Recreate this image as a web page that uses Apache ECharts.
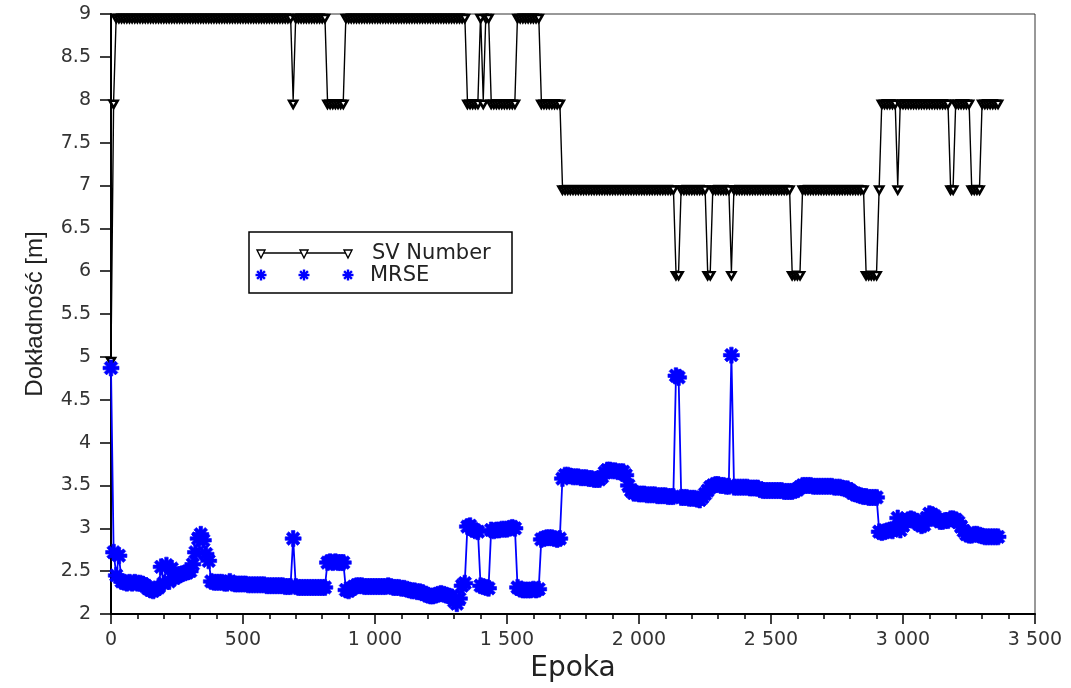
<!DOCTYPE html>
<html>
<head>
<meta charset="utf-8">
<script src="https://cdn.jsdelivr.net/npm/echarts@6/dist/echarts.min.js"></script>
<style>
html,body{margin:0;padding:0;background:#fff;}
#chart{width:1071px;height:688px;}
</style>
</head>
<body>
<div id="chart"></div>
<script>
// Samples: one sample every EPOCH_STEP epochs, starting at epoch 0
const EPOCH_STEP = 10;

const seriesNames = ['SV Number', 'MRSE'];

const svNumber = [
  5,8,9,9,9,9,9,9,9,9,
  9,9,9,9,9,9,9,9,9,9,
  9,9,9,9,9,9,9,9,9,9,
  9,9,9,9,9,9,9,9,9,9,
  9,9,9,9,9,9,9,9,9,9,
  9,9,9,9,9,9,9,9,9,9,
  9,9,9,9,9,9,9,9,9,8,
  9,9,9,9,9,9,9,9,9,9,
  9,9,8,8,8,8,8,8,8,9,
  9,9,9,9,9,9,9,9,9,9,
  9,9,9,9,9,9,9,9,9,9,
  9,9,9,9,9,9,9,9,9,9,
  9,9,9,9,9,9,9,9,9,9,
  9,9,9,9,9,8,8,8,8,8,
  9,8,9,9,8,8,8,8,8,8,
  8,8,8,8,9,9,9,9,9,9,
  9,9,9,8,8,8,8,8,8,8,
  8,7,7,7,7,7,7,7,7,7,
  7,7,7,7,7,7,7,7,7,7,
  7,7,7,7,7,7,7,7,7,7,
  7,7,7,7,7,7,7,7,7,7,
  7,7,7,7,6,6,7,7,7,7,
  7,7,7,7,7,7,6,6,7,7,
  7,7,7,7,7,6,7,7,7,7,
  7,7,7,7,7,7,7,7,7,7,
  7,7,7,7,7,7,7,7,6,6,
  6,6,7,7,7,7,7,7,7,7,
  7,7,7,7,7,7,7,7,7,7,
  7,7,7,7,7,7,6,6,6,6,
  6,7,8,8,8,8,8,8,7,8,
  8,8,8,8,8,8,8,8,8,8,
  8,8,8,8,8,8,8,8,7,7,
  8,8,8,8,8,8,7,7,7,7,
  8,8,8,8,8,8,8
];

const mrse = [
  4.87,2.72,2.45,2.68,2.38,2.37,2.36,2.37,2.36,2.37,
  2.36,2.36,2.35,2.33,2.30,2.28,2.27,2.29,2.31,2.55,
  2.36,2.57,2.38,2.53,2.42,2.44,2.46,2.47,2.48,2.49,
  2.50,2.58,2.72,2.88,2.93,2.86,2.70,2.62,2.38,2.37,
  2.37,2.37,2.37,2.36,2.36,2.38,2.36,2.35,2.35,2.35,
  2.35,2.35,2.34,2.34,2.34,2.34,2.34,2.34,2.34,2.33,
  2.33,2.33,2.33,2.33,2.33,2.33,2.32,2.32,2.32,2.88,
  2.32,2.31,2.31,2.31,2.31,2.31,2.31,2.31,2.31,2.31,
  2.31,2.31,2.60,2.61,2.60,2.61,2.60,2.60,2.60,2.28,
  2.27,2.29,2.32,2.33,2.33,2.33,2.32,2.32,2.32,2.32,
  2.32,2.32,2.32,2.32,2.32,2.33,2.32,2.31,2.31,2.31,
  2.30,2.30,2.29,2.28,2.27,2.27,2.26,2.26,2.25,2.23,
  2.22,2.21,2.21,2.22,2.23,2.24,2.23,2.22,2.21,2.20,
  2.15,2.12,2.18,2.33,2.36,3.02,3.03,2.99,2.97,2.96,
  2.33,2.32,2.31,2.30,2.98,2.97,2.98,2.98,2.99,2.99,
  2.99,3.00,3.01,3.00,2.31,2.29,2.28,2.28,2.28,2.28,
  2.29,2.28,2.29,2.87,2.88,2.89,2.89,2.89,2.88,2.87,
  2.88,3.58,3.62,3.62,3.61,3.60,3.60,3.60,3.59,3.59,
  3.59,3.58,3.58,3.57,3.57,3.57,3.60,3.65,3.68,3.68,
  3.67,3.67,3.66,3.66,3.66,3.62,3.50,3.44,3.41,3.41,
  3.40,3.40,3.40,3.39,3.39,3.39,3.39,3.38,3.38,3.38,
  3.38,3.37,3.37,3.37,4.78,4.76,3.36,3.36,3.36,3.35,
  3.35,3.35,3.34,3.33,3.36,3.40,3.44,3.48,3.50,3.51,
  3.51,3.50,3.50,3.49,3.49,5.02,3.48,3.48,3.48,3.48,
  3.48,3.48,3.47,3.47,3.47,3.47,3.45,3.44,3.44,3.44,
  3.44,3.44,3.44,3.44,3.44,3.43,3.43,3.43,3.43,3.44,
  3.45,3.48,3.50,3.50,3.50,3.50,3.49,3.49,3.49,3.49,
  3.49,3.49,3.49,3.49,3.48,3.48,3.48,3.47,3.46,3.46,
  3.44,3.41,3.40,3.39,3.38,3.37,3.37,3.36,3.36,3.36,
  3.36,2.96,2.95,2.96,2.97,2.98,2.97,3.00,3.12,2.98,
  3.03,3.08,3.10,3.11,3.10,3.08,3.05,3.03,3.04,3.12,
  3.17,3.16,3.14,3.10,3.08,3.08,3.09,3.09,3.11,3.11,
  3.10,3.07,3.02,2.97,2.93,2.92,2.92,2.93,2.93,2.92,
  2.91,2.90,2.90,2.90,2.90,2.90,2.90
];

const xTickLabels = ['0', '500', '1 000', '1 500', '2 000', '2 500', '3 000', '3 500'];
const xTitle = 'Epoka';
const yTitle = 'Dokładność [m]';

const FONT = '"DejaVu Sans", "Liberation Sans", sans-serif';
const TRI_DOWN = 'path://M0,0 L10,0 L5,9 Z';
const ASTERISK = 'path://M-2.2,-10 L2.2,-10 L2.2,10 L-2.2,10 Z M-10,-2.2 L10,-2.2 L10,2.2 L-10,2.2 Z M-8.6,-5.5 L-5.5,-8.6 L8.6,5.5 L5.5,8.6 Z M5.5,-8.6 L8.6,-5.5 L-5.5,8.6 L-8.6,5.5 Z';

const svData = svNumber.map((v, i) => [i * EPOCH_STEP, v]);
const mrseData = mrse.map((v, i) => [i * EPOCH_STEP, v]);

// Legend box drawn as graphic (three markers per entry, like the original)
const legendEls = [];
legendEls.push({ type: 'rect', shape: { x: 249, y: 232, width: 263, height: 61 },
  style: { fill: '#fff', stroke: '#000', lineWidth: 1.5 }, z: 100 });
legendEls.push({ type: 'line', shape: { x1: 261, y1: 253, x2: 348, y2: 253 },
  style: { stroke: '#000', lineWidth: 1.4 }, z: 101 });
[261, 304, 348].forEach(cx => {
  legendEls.push({ type: 'polygon', shape: { points: [[cx - 4, 250], [cx + 4, 250], [cx, 258]] },
    style: { fill: '#fff', stroke: '#000', lineWidth: 1.4 }, z: 102 });
  const cy = 275, r = 5.5, d = r * 0.7071;
  [[-r, 0, r, 0], [0, -r, 0, r], [-d, -d, d, d], [-d, d, d, -d]].forEach(s => {
    legendEls.push({ type: 'line', shape: { x1: cx + s[0], y1: cy + s[1], x2: cx + s[2], y2: cy + s[3] },
      style: { stroke: '#0000ff', lineWidth: 2.4 }, z: 102 });
  });
});
legendEls.push({ type: 'text', x: 372, y: 254, z: 102,
  style: { text: seriesNames[0], font: '21px ' + FONT, fill: '#222', verticalAlign: 'middle', align: 'left' } });
legendEls.push({ type: 'text', x: 370, y: 276, z: 102,
  style: { text: seriesNames[1], font: '21px ' + FONT, fill: '#222', verticalAlign: 'middle', align: 'left' } });

const chart = echarts.init(document.getElementById('chart'), null, { renderer: 'canvas' });
chart.setOption({
  animation: false,
  backgroundColor: '#fff',
  textStyle: { fontFamily: FONT },
  grid: { left: 111, right: 36, top: 14, bottom: 74, show: true, borderColor: '#333', borderWidth: 1, backgroundColor: 'transparent' },
  xAxis: {
    type: 'value', min: 0, max: 3500, interval: 500,
    name: xTitle, nameLocation: 'middle', nameGap: 38,
    nameTextStyle: { fontSize: 28, color: '#222', fontFamily: FONT },
    axisLine: { show: true, lineStyle: { color: '#000', width: 2 } },
    axisTick: { show: true, length: 10, lineStyle: { color: '#000', width: 1.5 } },
    minorTick: { show: true, splitNumber: 5, length: 5, lineStyle: { color: '#000', width: 1.5 } },
    axisLabel: { fontSize: 19, color: '#333', margin: 17, fontFamily: FONT,
      formatter: v => xTickLabels[Math.round(v / 500)] },
    splitLine: { show: false }
  },
  yAxis: {
    type: 'value', min: 2, max: 9, interval: 0.5,
    name: yTitle, nameLocation: 'middle', nameGap: 64,
    nameTextStyle: { fontSize: 24, color: '#222', fontFamily: '"Liberation Sans", Arial, sans-serif' },
    axisLine: { show: true, lineStyle: { color: '#000', width: 2 } },
    axisTick: { show: true, length: 11, lineStyle: { color: '#000', width: 1.5 } },
    axisLabel: { fontSize: 19, color: '#333', margin: 20, fontFamily: FONT },
    splitLine: { show: false }
  },
  series: [
    {
      name: seriesNames[0], type: 'line', data: svData,
      showSymbol: true, showAllSymbol: true,
      symbol: TRI_DOWN, symbolSize: [8, 7], symbolOffset: [0, 4.5], symbolKeepAspect: false,
      itemStyle: { color: '#fff', borderColor: '#000', borderWidth: 2.6 },
      lineStyle: { color: '#000', width: 1.4 },
      emphasis: { disabled: true }, z: 2
    },
    {
      name: seriesNames[1], type: 'line', data: mrseData,
      showSymbol: true, showAllSymbol: true,
      symbol: ASTERISK, symbolSize: 16,
      itemStyle: { color: '#0000ff', borderColor: '#0000ff', borderWidth: 0.6 },
      lineStyle: { color: '#0000ff', width: 1.8 },
      emphasis: { disabled: true }, z: 3
    }
  ],
  graphic: { elements: legendEls }
});
</script>
</body>
</html>
